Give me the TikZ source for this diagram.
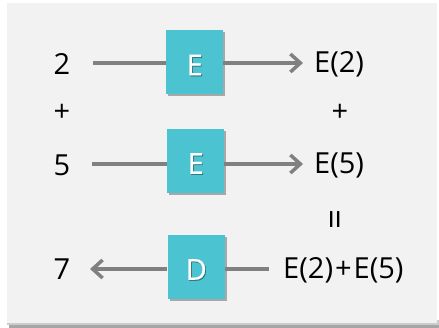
\documentclass[tikz,border=0pt]{standalone}
\usepackage{fontspec}
\setmainfont{Open Sans}
\newfontfamily\boxfont[FakeBold=0.6]{Open Sans}
\usetikzlibrary{arrows.meta,shadows}
\definecolor{panel}{HTML}{F2F2F2}
\definecolor{boxc}{HTML}{4BC3D0}
\definecolor{linec}{HTML}{808080}
\tikzset{
  txt/.style={inner sep=0pt, font=\fontsize{29}{34}\selectfont, text=black},
  enc/.style={fill=boxc, minimum width=57pt, minimum height=64pt, inner sep=0pt,
    drop shadow={shadow xshift=2pt, shadow yshift=-2pt, fill=black, opacity=0.3}},
  lbl/.style={inner sep=0pt, font=\boxfont\fontsize{29}{34}\selectfont, text=white},
  lblsh/.style={inner sep=0pt, font=\boxfont\fontsize{29}{34}\selectfont, text=black, opacity=0.4},
  conn/.style={draw=linec, line width=3.5pt},
  arr/.style={conn, -{Straight Barb[length=10pt,width=18pt,line width=3.5pt]}},
}
\begin{document}
\begin{tikzpicture}[x=1pt,y=-1pt]
\useasboundingbox (0,0) rectangle (439,328);
\fill[white] (0,0) rectangle (439,328);
\fill[black!35] (9,323) rectangle (439,328);
\fill[black!20] (7,320) rectangle (439,325);
\fill[panel] (7,3) rectangle (437,323);
% row 1
\node[txt] (n2) at (62,64) {2};
\node[enc] (e1) at (194.5,62.5) {};
\node[lblsh] at (195.6,65.9) {E};
\node[lbl] (e1l) at (194.8,65) {E};
\node[txt, anchor=west] (e2) at (314,64) {E(2)};
\coordinate (a1) at (93,63);
\coordinate (b1) at (303,63);
\draw[conn] (a1) -- (a1 -| e1.west);
\draw[arr] (b1 -| e1.east) -- (b1);
% plus signs
\node[txt] (p1) at (62,113) {+};
\node[txt] (p2) at (340,113) {+};
% row 2
\node[txt] (n5) at (62,165) {5};
\node[enc] (e3) at (195.5,161) {};
\node[lblsh] at (196.6,164.4) {E};
\node[lbl] (e3l) at (195.8,163.5) {E};
\node[txt, anchor=west] (e5) at (314,165) {E(5)};
\coordinate (a2) at (92,164);
\coordinate (b2) at (303,164);
\draw[conn] (a2) -- (a2 -| e3.west);
\draw[arr] (b2 -| e3.east) -- (b2);
% equals
\node[txt, rotate=90, font=\fontsize{35}{40}\selectfont] (eq) at (339,219) {=};
% row 3
\node[txt] (n7) at (62,269) {7};
\node[enc] (d) at (196,267.5) {};
\node[lblsh] at (197.1,270.4) {D};
\node[lbl] (dl) at (196.3,269.5) {D};
\node[txt, anchor=west] (sum) at (283,270) {E(2)\kern2pt+\kern2ptE(5)};
\coordinate (a3) at (90,269);
\coordinate (b3) at (269,269);
\draw[arr] (a3 -| d.west) -- (a3);
\draw[conn] (b3 -| d.east) -- (b3);
\end{tikzpicture}
\end{document}
